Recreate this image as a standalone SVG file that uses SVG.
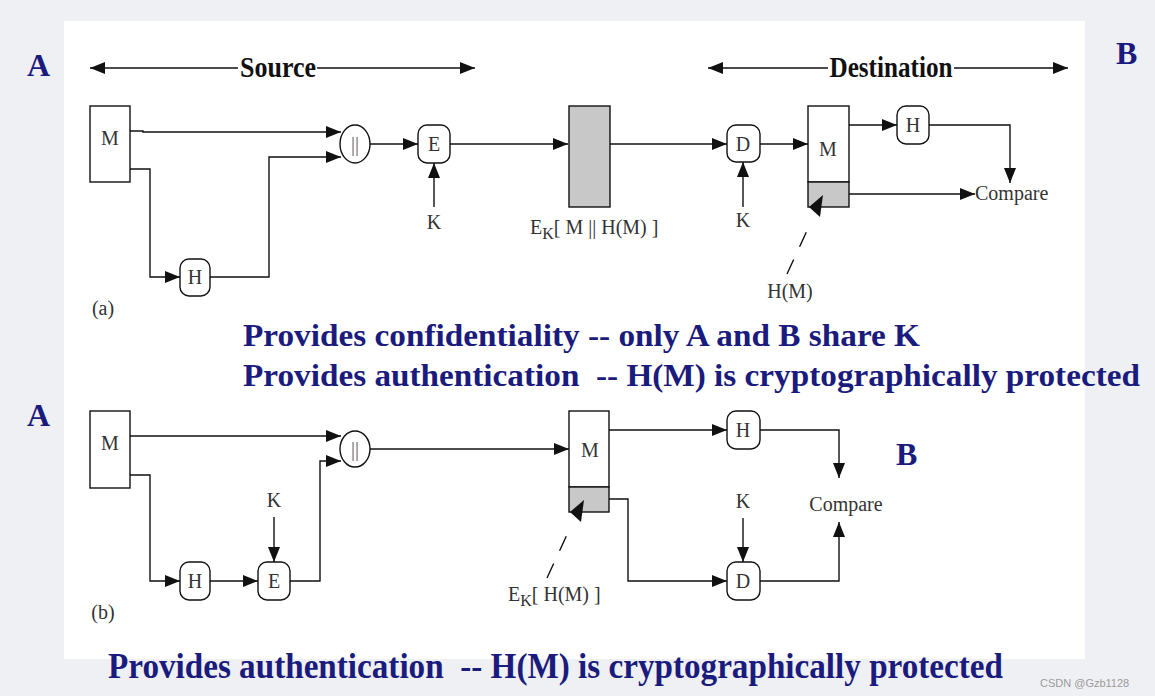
<svg xmlns="http://www.w3.org/2000/svg" width="1155" height="696" viewBox="0 0 1155 696">
<style>
.ln{fill:none;stroke:#111;stroke-width:1.4}
.nd{fill:#fff;stroke:#111;stroke-width:1.4}
.gr{fill:#c8c8c8;stroke:#111;stroke-width:1.4}
.t{font-family:"Liberation Serif","Times New Roman",serif;font-size:20px;fill:#333;text-anchor:middle}
.bar{font-family:"Liberation Serif","Times New Roman",serif;font-size:20px;fill:#666;text-anchor:middle}
.hd{font-family:"Liberation Serif","Times New Roman",serif;font-size:29px;font-weight:bold;fill:#111;text-anchor:middle}
.bl{font-family:"Liberation Serif","Times New Roman",serif;font-weight:bold;fill:#1b1b7d;white-space:pre}
.ab{font-family:"Liberation Serif","Times New Roman",serif;font-size:32px;font-weight:bold;fill:#1b1b7d}
.ah{marker-end:url(#ah)}
.tri{fill:#111}
</style>
<defs>
<marker id="ah" viewBox="0 0 15 12" refX="15" refY="6" markerWidth="15" markerHeight="12" orient="auto-start-reverse" markerUnits="userSpaceOnUse"><path d="M0,0 L15,6 L0,12 z" fill="#111"/></marker>
</defs>
<rect width="1155" height="696" fill="#eff0f4"/>
<rect x="64" y="21" width="1021" height="638" fill="#fff"/>
<g id="labels-ab">
<text class="ab" x="27" y="76">A</text>
<text class="ab" x="1116" y="64">B</text>
<text class="ab" x="27" y="426">A</text>
<text class="ab" x="896" y="465">B</text>
</g>
<g id="connectors">
<line class="ln" x1="90" y1="68" x2="238" y2="68" style="marker-start:url(#ah)"/>
<line class="ln ah" x1="317" y1="68" x2="475" y2="68"/>
<line class="ln" x1="708" y1="68" x2="828" y2="68" style="marker-start:url(#ah)"/>
<line class="ln ah" x1="954" y1="68" x2="1068" y2="68"/>
<path class="ln ah" d="M130,131 H143 V132 H341"/>
<path class="ln ah" d="M130,169 H150 V277 H180"/>
<path class="ln ah" d="M210,277 H269 V157 H341"/>
<path class="ln ah" d="M370,144 H418"/>
<path class="ln ah" d="M434,207 V163"/>
<path class="ln ah" d="M450,144 H568"/>
<path class="ln ah" d="M610,144 H727"/>
<path class="ln ah" d="M743,207 V162"/>
<path class="ln ah" d="M760,144 H808"/>
<path class="ln ah" d="M849,125 H897"/>
<path class="ln ah" d="M929,125 H1010 V183"/>
<path class="ln ah" d="M849,194 H975"/>
<line class="ln" x1="787" y1="274" x2="811" y2="222" stroke-dasharray="16,14"/>
<path class="ln ah" d="M130,436 H341"/>
<path class="ln ah" d="M130,475 H150 V581 H180"/>
<path class="ln ah" d="M210,581 H258"/>
<path class="ln ah" d="M274,517 V562"/>
<path class="ln ah" d="M290,581 H320 V461 H341"/>
<path class="ln ah" d="M370,449 H569"/>
<path class="ln ah" d="M609,430 H727"/>
<path class="ln ah" d="M760,430 H839 V478"/>
<path class="ln ah" d="M609,499 H628 V581 H727"/>
<path class="ln ah" d="M743,518 V562"/>
<path class="ln ah" d="M760,581 H839 V522"/>
<line class="ln" x1="547" y1="578" x2="571" y2="526" stroke-dasharray="16,14"/>
</g>
<g id="headers">
<text class="hd" x="278" y="77" textLength="76" lengthAdjust="spacingAndGlyphs">Source</text>
<text class="hd" x="891" y="77" textLength="123" lengthAdjust="spacingAndGlyphs">Destination</text>
</g>
<g id="a-M"><rect class="nd" x="90" y="106" width="40" height="76"/><text class="t" x="110" y="145">M</text></g>
<g id="a-H"><rect class="nd" x="180" y="259" width="30" height="37" rx="9"/><text class="t" x="195" y="284">H</text></g>
<g id="a-concat"><ellipse class="nd" cx="355" cy="144" rx="15" ry="19"/><text class="bar" x="355" y="151">||</text></g>
<g id="a-E"><rect class="nd" x="418" y="125" width="32" height="38" rx="9"/><text class="t" x="434" y="151">E</text></g>
<text class="t" x="434" y="229">K</text>
<g id="a-cipher"><rect class="gr" x="569" y="106" width="41" height="101"/>
<text class="t" x="530" y="234" style="text-anchor:start">E<tspan font-size="16" dy="5">K</tspan><tspan dy="-5">[ M || H(M) ]</tspan></text></g>
<g id="a-D"><rect class="nd" x="727" y="125" width="33" height="37" rx="9"/><text class="t" x="743" y="151">D</text></g>
<text class="t" x="743" y="227">K</text>
<g id="a-Mrecv"><rect class="nd" x="808" y="106" width="41" height="76"/><rect class="gr" x="808" y="182" width="41" height="25"/><text class="t" x="828" y="156">M</text>
<path class="tri" d="M809,207 L823,195 L820,217 z"/></g>
<g id="a-H2"><rect class="nd" x="897" y="106" width="32" height="38" rx="9"/><text class="t" x="913" y="132">H</text></g>
<text class="t" x="975" y="200" style="text-anchor:start">Compare</text>
<text class="t" x="790" y="298">H(M)</text>
<text class="t" x="103" y="315" font-size="18">(a)</text>
<g id="texts-a">
<text class="bl" x="243" y="346" font-size="31" textLength="677" lengthAdjust="spacingAndGlyphs">Provides confidentiality -- only A and B share K</text>
<text class="bl" x="243" y="386" font-size="31" textLength="897" lengthAdjust="spacingAndGlyphs">Provides authentication  -- H(M) is cryptographically protected</text>
</g>
<g id="b-M"><rect class="nd" x="90" y="411" width="40" height="77"/><text class="t" x="110" y="450">M</text></g>
<g id="b-H"><rect class="nd" x="180" y="562" width="30" height="38" rx="9"/><text class="t" x="195" y="588">H</text></g>
<g id="b-E"><rect class="nd" x="258" y="562" width="32" height="38" rx="9"/><text class="t" x="274" y="588">E</text></g>
<text class="t" x="274" y="507">K</text>
<g id="b-concat"><ellipse class="nd" cx="355" cy="449" rx="15" ry="18"/><text class="bar" x="355" y="456">||</text></g>
<g id="b-Mrecv"><rect class="nd" x="569" y="411" width="40" height="76"/><rect class="gr" x="569" y="487" width="40" height="25"/><text class="t" x="590" y="457">M</text>
<path class="tri" d="M570,512 L584,500 L581,522 z"/></g>
<g id="b-H2"><rect class="nd" x="727" y="411" width="33" height="38" rx="9"/><text class="t" x="743" y="437">H</text></g>
<g id="b-D"><rect class="nd" x="727" y="562" width="33" height="38" rx="9"/><text class="t" x="743" y="588">D</text></g>
<text class="t" x="743" y="508">K</text>
<text class="t" x="846" y="511">Compare</text>
<text class="t" x="508" y="601" style="text-anchor:start">E<tspan font-size="16" dy="5">K</tspan><tspan dy="-5">[ H(M) ]</tspan></text>
<text class="t" x="103" y="619" font-size="18">(b)</text>
<text class="bl" transform="translate(108,678) scale(0.86,1)" x="0" y="0" font-size="35" textLength="1040.7" lengthAdjust="spacingAndGlyphs">Provides authentication  -- H(M) is cryptographically protected</text>
<text x="1040" y="687" font-family="Liberation Sans, Arial, sans-serif" font-size="11" fill="#9a9a9a">CSDN @Gzb1128</text>
</svg>
